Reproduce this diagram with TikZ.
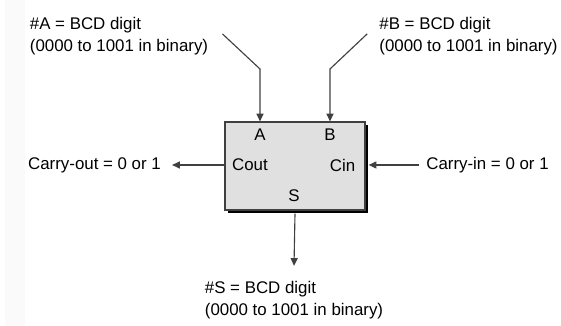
\documentclass[tikz,border=0pt]{standalone}
\usepackage{fontspec}
\setmainfont{Liberation Sans}
\usetikzlibrary{arrows.meta,calc,positioning,shadows}
\definecolor{wiregray}{RGB}{64,64,64}
\definecolor{blockgray}{RGB}{224,224,224}

\begin{document}
\begin{tikzpicture}[>={Triangle[length=5.5pt,width=5pt]},line cap=butt,line join=miter,
 wire/.style={wiregray,line width=.8pt},
 note/.style={font=\fontsize{12}{15.6}\selectfont,align=left,inner ysep=0pt},
 port/.style={font=\fontsize{12}{14}\selectfont,inner sep=0pt}]
 \useasboundingbox (0,0) rectangle (14.025,8.15);
 \fill[black!2] (.13,0) rectangle (.63,8.15);
 % the adder block
 \node[draw=wiregray,line width=.8pt,fill=blockgray,minimum width=3.5cm,minimum height=2.2cm,
  drop shadow={shadow xshift=2.2pt,shadow yshift=-2.2pt,fill=black,opacity=1}]
  (blk) at (7.375,4) {};
 \node[port] (pa) at (6.5,4.775) {A};
 \node[port] (pb) at (8.25,4.775) {B};
 \node[port] (pcout) at (6.25,4.025) {Cout};
 \node[port] (pcin) at (8.5625,4.025) {Cin};
 \node[port] (ps) at (7.35,3.25) {S};
 % the texts round it
 \node[note,inner xsep=10pt] (lblA) at (2.975,7.25) {\#A = BCD digit\\(0000 to 1001 in binary)};
 \node[note,inner xsep=8.5pt] (lblB) at (11.7125,7.25) {\#B = BCD digit\\(0000 to 1001 in binary)};
 \node[note,inner xsep=7.8pt] (lblCout) at (2.3625,4.025) {Carry-out = 0 or 1};
 \node[note,inner xsep=5pt] (lblCin) at (12.1875,4.025) {Carry-in = 0 or 1};
 \node[note,inner ysep=11pt] (lblS) at (7.35,.64) {\#S = BCD digit\\(0000 to 1001 in binary)};
 \coordinate (akink) at (6.5,6.425);
 \coordinate (bkink) at (8.25,6.425);
 % wires
 \draw[wire,->] ([yshift=1.5pt]lblA.east) -- (akink) -- (akink |- blk.north);
 \draw[wire,->] ([yshift=1.5pt]lblB.west) -- (bkink) -- (bkink |- blk.north);
 \draw[wire,->] (blk.west |- lblCout) -- (lblCout.east);
 \draw[wire,->] (lblCin.west) -- ([xshift=2.2pt]blk.east |- lblCin);
 \draw[wire,->] ([yshift=-2.2pt]blk.south) -- (lblS.north);
\end{tikzpicture}
\end{document}
